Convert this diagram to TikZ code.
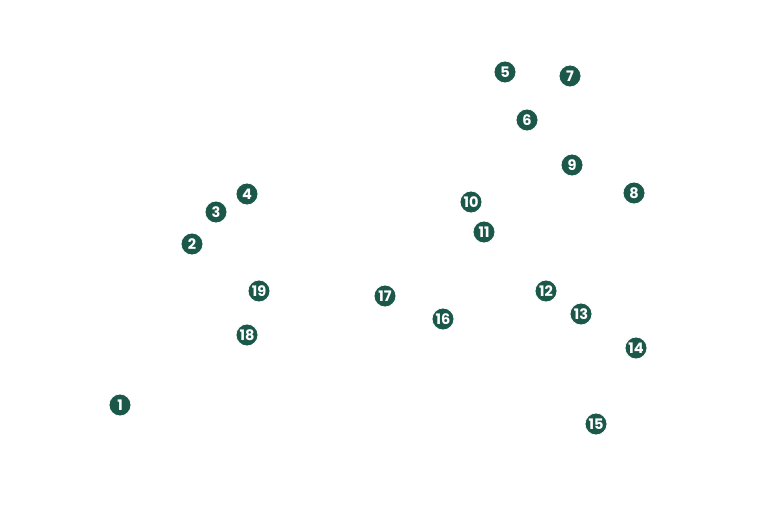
\documentclass[tikz,border=0pt]{standalone}
\usepackage{fontspec}
\setsansfont{Poppins}
\definecolor{mk}{RGB}{27,88,74}
\begin{document}
\begin{tikzpicture}[x=1pt,y=-1pt,
  pin/.style={circle,fill=mk,draw=white,line width=0.8pt,minimum size=22pt,inner sep=0pt,text=white,font=\sffamily\bfseries\fontsize{14.5}{14.5}\selectfont}]
\useasboundingbox[fill=white] (0,0) rectangle (770,513);
\node[pin] (n1) at (120,405) {1};
\node[pin] (n2) at (192,244) {2};
\node[pin] (n3) at (216,212) {3};
\node[pin] (n4) at (247,194) {4};
\node[pin] (n5) at (505,72) {5};
\node[pin] (n6) at (527,120) {6};
\node[pin] (n7) at (570,76) {7};
\node[pin] (n8) at (634,193) {8};
\node[pin] (n9) at (572,165) {9};
\node[pin] (n10) at (471,202) {10};
\node[pin] (n11) at (484,232) {11};
\node[pin] (n12) at (546,291) {12};
\node[pin] (n13) at (581,314) {13};
\node[pin] (n14) at (636,348) {14};
\node[pin] (n15) at (596,424) {15};
\node[pin] (n16) at (443,319) {16};
\node[pin] (n17) at (385,296) {17};
\node[pin] (n18) at (247,335) {18};
\node[pin] (n19) at (259,291) {19};
\end{tikzpicture}
\end{document}
